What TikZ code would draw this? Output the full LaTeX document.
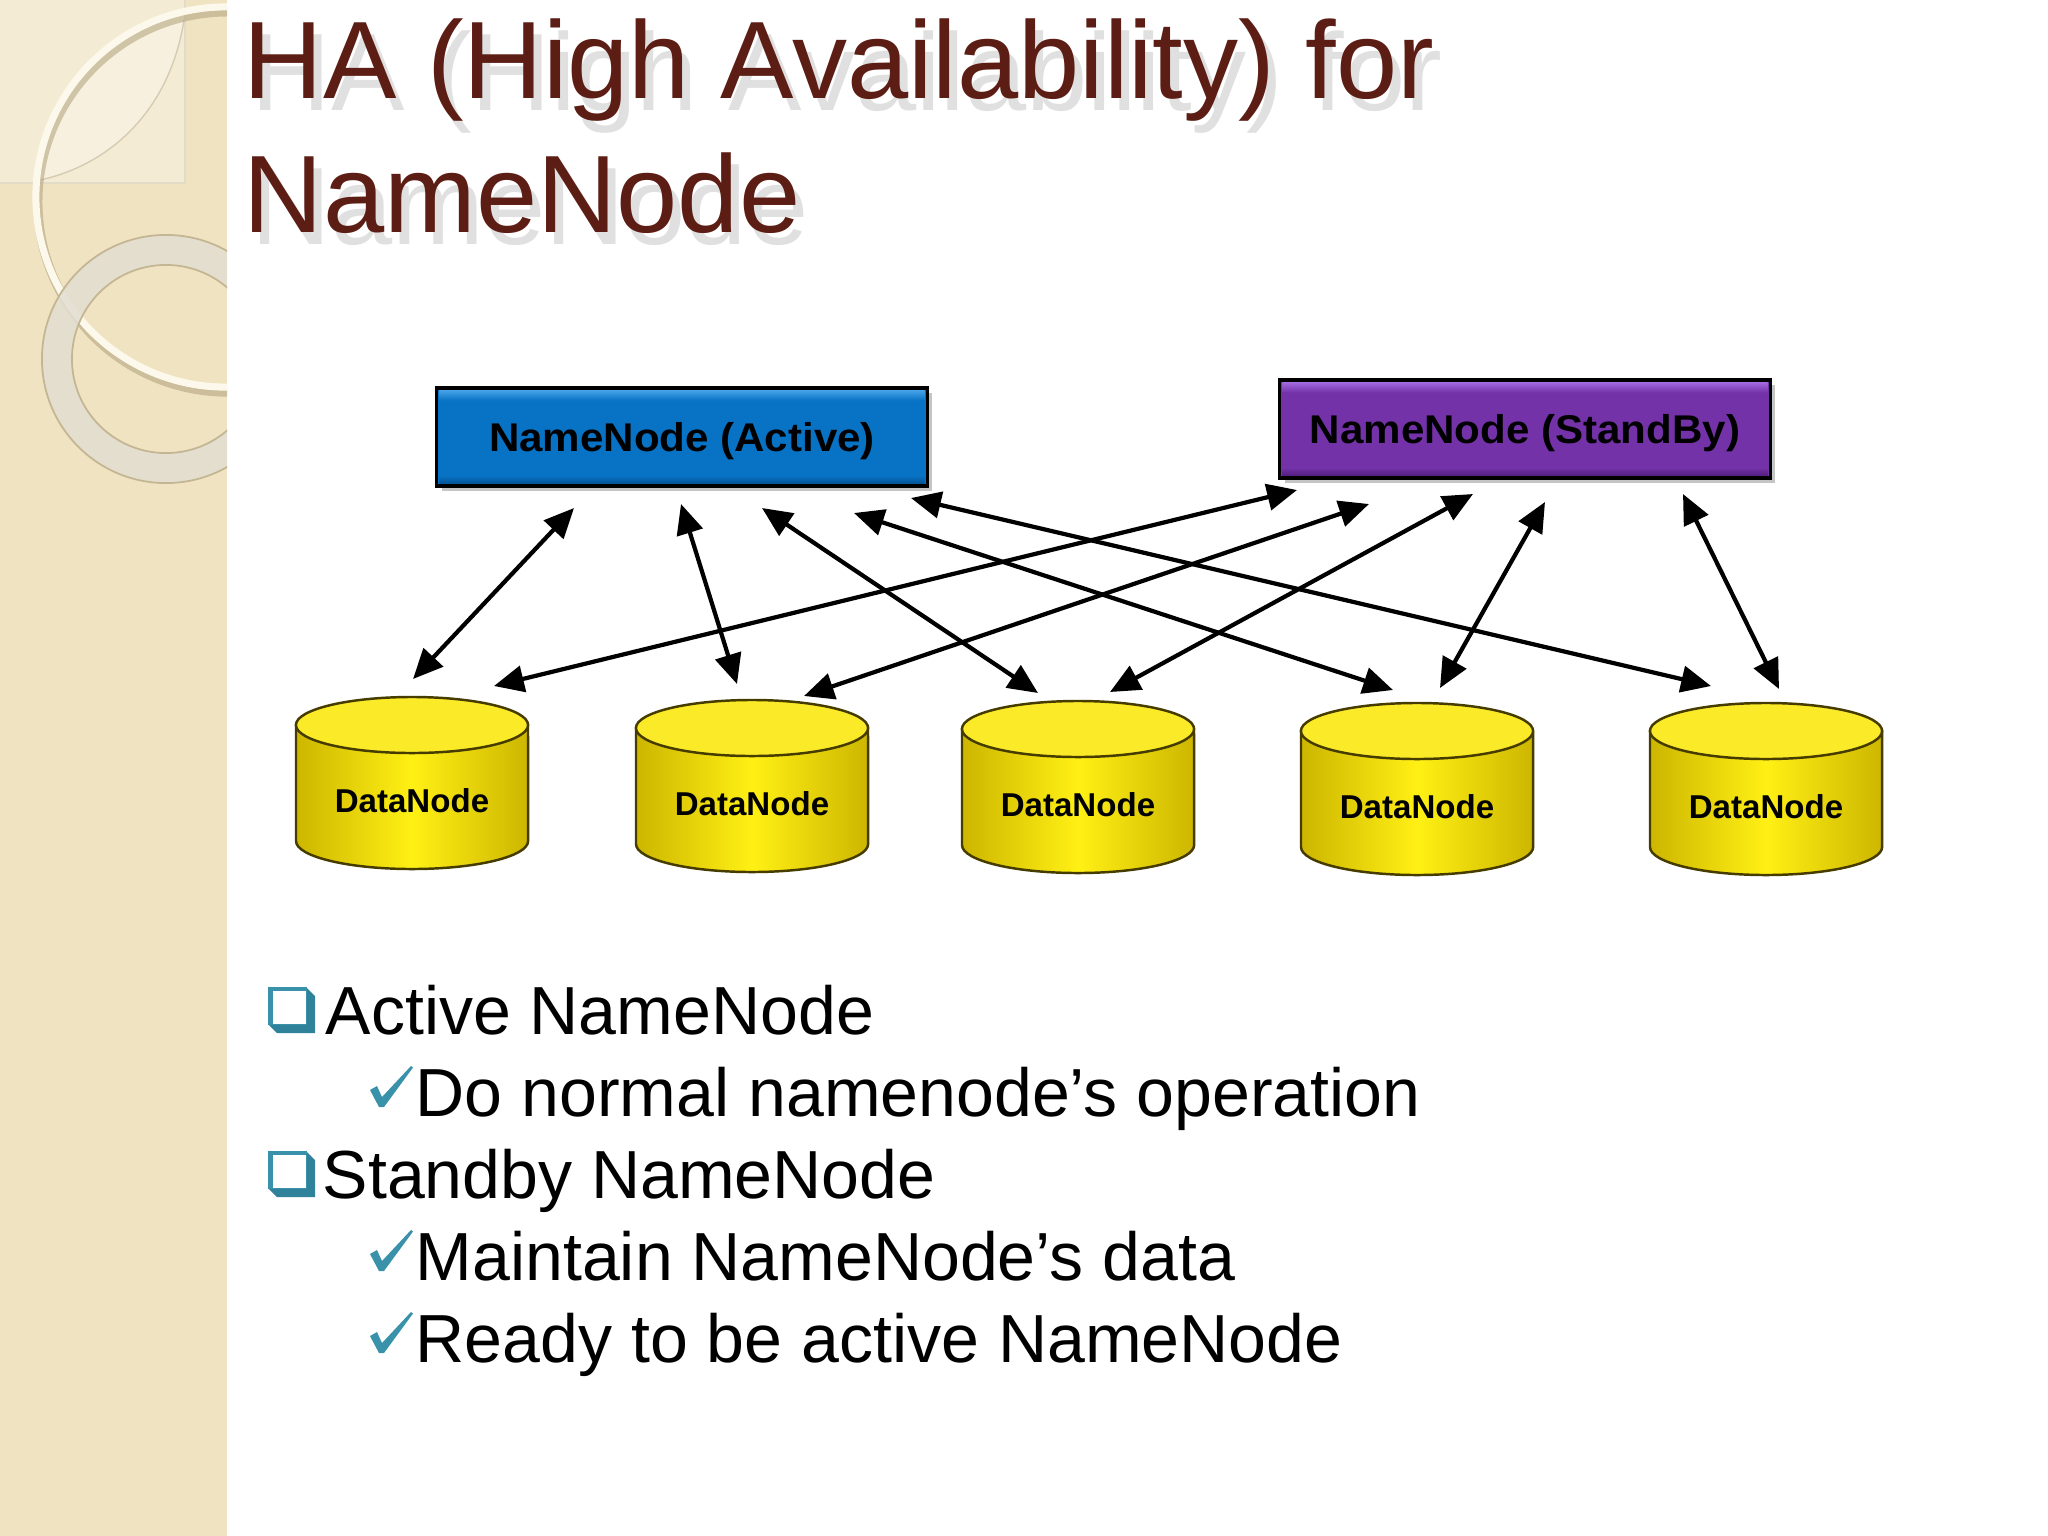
\documentclass[tikz,border=0pt]{standalone}
\usepackage{fontspec}
\setmainfont{Liberation Sans}
\usepackage{graphicx}
\usetikzlibrary{arrows.meta,shadows,calc}
\definecolor{sidebg}{RGB}{240,227,194}
\definecolor{sidelight}{RGB}{244,235,212}
\definecolor{lenscol}{RGB}{247,240,223}
\definecolor{ringcol}{RGB}{226,222,210}
\definecolor{ringedge}{RGB}{196,182,146}
\definecolor{arccol}{RGB}{252,249,236}
\definecolor{arcshadow}{RGB}{176,160,122}
\definecolor{titlecol}{RGB}{92,30,20}
\definecolor{actblue}{RGB}{8,114,196}
\definecolor{actlight}{RGB}{70,162,232}
\definecolor{actdark}{RGB}{4,84,150}
\definecolor{stbpurple}{RGB}{116,50,168}
\definecolor{stblight}{RGB}{162,104,222}
\definecolor{stbdark}{RGB}{84,30,128}
\definecolor{yelL}{RGB}{255,240,20}
\definecolor{yelD}{RGB}{205,182,0}
\definecolor{yelTop}{RGB}{250,234,40}
\definecolor{cylline}{RGB}{70,60,0}
\definecolor{bultcol}{RGB}{58,146,170}
\definecolor{bultdark}{RGB}{48,130,154}
\tikzset{
  nnbox/.style={draw=black, line width=0.9pt, minimum width=4.9cm, minimum height=0.98cm,
    inner sep=0pt, text depth=0pt, text=black,
    font=\bfseries\fontsize{11.4pt}{13pt}\selectfont,
    drop shadow={shadow xshift=0.05cm, shadow yshift=-0.05cm, opacity=0.45}},
  dnlabel/.style={font=\bfseries\fontsize{9.4pt}{11pt}\selectfont, text=black, inner sep=0pt},
  biarrow/.style={{Triangle[length=8.5pt,width=7.5pt]}-{Triangle[length=8.5pt,width=7.5pt]},
    line width=1.2pt, black},
  lvltext/.style={anchor=base west, inner sep=0pt, text=black,
    font=\fontsize{19.35pt}{23pt}\selectfont},
  titletext/.style={anchor=base west, inner sep=0pt,
    font=\fontsize{31.3pt}{37pt}\selectfont},
}
\begin{document}
\begin{tikzpicture}[x=0.01cm,y=0.01cm]
\useasboundingbox (0,0) rectangle (2048,-1536);
\fill[white] (0,0) rectangle (2048,-1536);

% ---- left decorative sidebar ----
\fill[sidebg] (0,0) rectangle (227,-1536);
\begin{scope}
  \clip (0,0) rectangle (227,-1536);
  \fill[sidelight] (0,0) rectangle (185,-183);
  \draw[ringedge!50, line width=0.3pt] (0,-183) -- (185,-183) -- (185,0);
  \begin{scope}
    \clip (226,-197) circle [radius=1.9cm];
    \fill[lenscol] (40,-180) .. controls (110,-165) and (170,-110) .. (184,-20)
      -- (185,0) -- (0,0) -- (0,-180) -- cycle;
  \end{scope}
  \draw[ringedge!70, line width=0.4pt] (40,-180) .. controls (110,-165) and (170,-110) .. (184,-20);
  % big arc with shadow
  \draw[arcshadow, opacity=0.55, line width=2.6pt] (228,-202) circle [radius=1.9cm];
  \draw[arccol, line width=2pt] (226,-197) circle [radius=1.9cm];
  % ring
  \fill[ringcol, opacity=0.85, even odd rule] (166,-359) circle [radius=1.24cm]
    (166,-359) circle [radius=0.94cm];
  \draw[ringedge, line width=0.5pt] (166,-359) circle [radius=1.24cm];
  \draw[ringedge, line width=0.5pt] (166,-359) circle [radius=0.94cm];
\end{scope}

% ---- title (with soft grey shadow) ----
\node[titletext, text=black!55, text opacity=0.22] (t1s) at (251,-110) {HA (High Availability) for};
\node[titletext, text=black!55, text opacity=0.22] (t2s) at (251,-244) {NameNode};
\node[titletext, text=titlecol] (t1) at (243,-98) {HA (High Availability) for};
\node[titletext, text=titlecol] (t2) at (243,-232) {NameNode};

% ---- NameNode boxes ----
\node[nnbox, fill=actblue] (act) at (682,-437) {\scalebox{1.05}[1]{NameNode (Active)}};
\path[top color=actlight, bottom color=actblue] ($(act.north west)+(4,-4)$) rectangle ($(act.north east)+(-4,-14)$);
\path[top color=actblue, bottom color=actdark] ($(act.south west)+(4,12)$) rectangle ($(act.south east)+(-4,4)$);

\node[nnbox, fill=stbpurple] (stb) at (1525,-429) {\scalebox{1.05}[1]{NameNode (StandBy)}};
\path[top color=stblight, bottom color=stbpurple] ($(stb.north west)+(4,-4)$) rectangle ($(stb.north east)+(-4,-14)$);
\path[top color=stbpurple, bottom color=stbdark] ($(stb.south west)+(4,12)$) rectangle ($(stb.south east)+(-4,4)$);

% ---- DataNode cylinders ----
\foreach \i/\cx/\yt in {1/412/725, 2/752/728, 3/1078/729, 4/1417/731, 5/1766/731} {
  \pgfmathsetmacro\yb{\yt+116}
  \path[left color=yelD, right color=yelD, middle color=yelL, draw=cylline, line width=0.7pt]
    (\cx-116,-\yt) -- (\cx-116,-\yb)
    arc[start angle=180, end angle=360, x radius=1.16cm, y radius=0.28cm]
    -- (\cx+116,-\yt) -- cycle;
  \fill[yelTop, draw=cylline, line width=0.7pt] (\cx,-\yt) ellipse [x radius=1.16cm, y radius=0.28cm];
  \node[dnlabel] (dn\i) at (\cx,-\yt-76) {DataNode};
}

% ---- connectors ----
\coordinate (a1u) at (574,-508);  \coordinate (a1d) at (413,-679);
\coordinate (a2u) at (681,-504);  \coordinate (a2d) at (737,-684);
\coordinate (a3u) at (762,-508);  \coordinate (a3d) at (1038,-693);
\coordinate (a4u) at (854,-513);  \coordinate (a4d) at (1393,-690);
\coordinate (a5u) at (911,-498);  \coordinate (a5d) at (1711,-686);
\coordinate (s1u) at (1297,-490); \coordinate (s1d) at (494,-686);
\coordinate (s2u) at (1369,-504); \coordinate (s2d) at (804,-696);
\coordinate (s3u) at (1473,-494); \coordinate (s3d) at (1110,-692);
\coordinate (s4u) at (1545,-502); \coordinate (s4d) at (1440,-688);
\coordinate (s5u) at (1683,-494); \coordinate (s5d) at (1779,-689);
\foreach \n in {a1,a2,a3,a4,a5,s1,s2,s3,s4,s5} {
  \draw[biarrow] (\n u) -- (\n d);
}

% ---- bullet list ----
\foreach \dy in {0,164} {
  \fill[bultdark] (268,-987-\dy) -- (306,-987-\dy) -- (315,-996-\dy) -- (315,-1033-\dy)
    -- (277,-1033-\dy) -- (268,-1024-\dy) -- cycle;
  \fill[bultcol] (268,-987-\dy) rectangle (307,-1025-\dy);
  \fill[white] (273,-991-\dy) rectangle (306,-1024-\dy);
}
\foreach \dy in {0,164,246} {
  \begin{scope}[shift={(370,-1066-\dy)}]
    \fill[bultcol] (0,-24) -- (7,-20) -- (12,-31) -- (41,0) -- (43,-1.5) -- (14,-41) -- (9,-41) -- cycle;
  \end{scope}
}
\node[lvltext] (l1) at (325,-1034) {Active NameNode};
\node[lvltext] (l2) at (415,-1116) {Do normal namenode’s operation};
\node[lvltext] (l3) at (322,-1198) {Standby NameNode};
\node[lvltext] (l4) at (415,-1280) {Maintain NameNode’s data};
\node[lvltext] (l5) at (415,-1362) {Ready to be active NameNode};
\end{tikzpicture}
\end{document}
